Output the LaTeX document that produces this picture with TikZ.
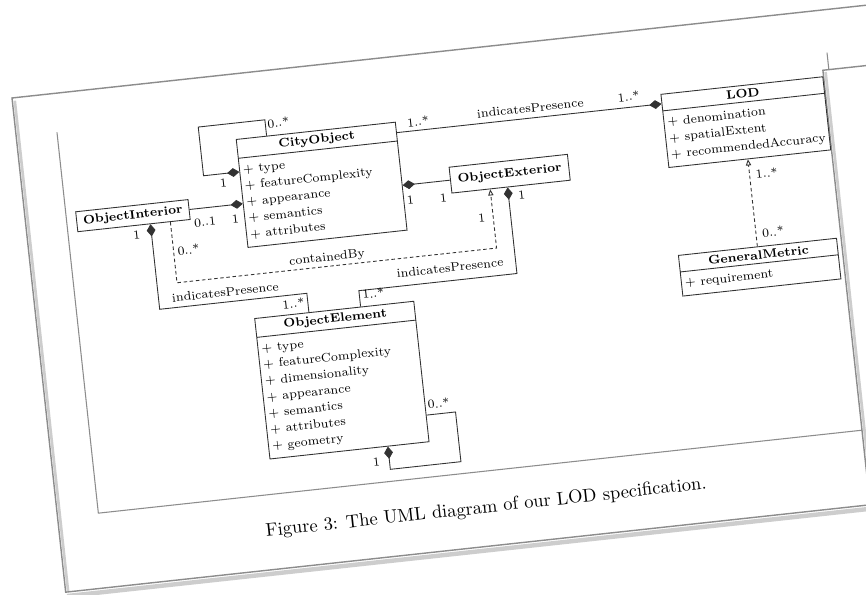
\documentclass[tikz,border=0pt]{standalone}
\usepackage{tikz}
\usetikzlibrary{shapes.multipart,arrows.meta,calc}
\definecolor{umlline}{RGB}{50,50,50}
\definecolor{pageedge}{RGB}{140,140,140}
\definecolor{pageshade}{RGB}{205,205,205}
\newcommand{\attrlist}[1]{\renewcommand{\arraystretch}{0.93}\begin{tabular}{@{}l@{}}#1\end{tabular}}

\begin{document}
\begin{tikzpicture}
    \tikzstyle{every node} = [transform shape]
    \tikzstyle{umlclass} = [draw=umlline, line width=0.5pt, fill=white, rectangle split, rectangle split parts=2,
        rectangle split part align={center,left}, inner xsep=2pt, inner ysep=2pt, anchor=north west,
        font=\fontsize{7}{10}\selectfont]
    \tikzstyle{umlbox} = [draw=umlline, line width=0.5pt, fill=white, inner sep=1pt, font=\fontsize{7}{9}\selectfont\bfseries]
    \tikzstyle{mult} = [inner sep=1pt, font=\fontsize{7}{8}\selectfont]
    \tikzstyle{compo} = [draw=umlline, line width=0.5pt, -{Diamond[length=7pt,width=5pt]}]
    \tikzstyle{depend} = [draw=umlline, line width=0.5pt, dash pattern=on 2pt off 1.5pt, -{Triangle[open,length=3.5pt,width=3pt]}]

    \useasboundingbox (0,0) rectangle (17.32,11.9);
    \clip (0,0) rectangle (17.32,11.9);
    \fill[white] (0,0) rectangle (17.32,11.9);

    \begin{scope}[shift={(0.24,9.94)}, rotate=6.2, x=0.02cm, y=-0.02cm]
        % the sheet
        \fill[white] (0,0) rectangle (1100,497);
        \draw[pageshade, line width=2.5pt] (1,501) -- (1100,501);
        \draw[pageshade, line width=1.5pt] (2.5,3) -- (2.5,496);
        \draw[pageedge, line width=0.8pt] (1100,0) -- (0,0) -- (0,497) -- (1100,497);
        % figure frame
        \draw[pageedge, line width=0.6pt] (41,39) -- (41,422) -- (815,422) -- (815,43);
        \node[font=\fontsize{10.5}{12}\selectfont] (caption) at (427,459) {Figure 3: The UML diagram of our LOD specification.};
        % next sheet
        \fill[white] (809,60) rectangle (1100,700);
        \draw[pageshade, line width=1.5pt] (811.5,62) -- (811.5,700);
        \draw[pageedge, line width=0.8pt] (1100,60) -- (809,60) -- (809,700);

        % classes
        \node[umlclass, minimum width=3.2cm] (city) at (218,65) {\textbf{CityObject}\nodepart{second}\attrlist{+ type\\+ featureComplexity\\+ appearance\\+ semantics\\+ attributes}};
        \node[umlclass, minimum width=3.16cm] (lod) at (645,66) {\textbf{LOD}\nodepart{second}\attrlist{+ denomination\\+ spatialExtent\\+ recommendedAccuracy}};
        \node[umlclass, minimum width=3.18cm] (metric) at (645,228) {\textbf{GeneralMetric}\nodepart{second}\attrlist{+ requirement}};
        \node[umlclass, minimum width=3.2cm] (element) at (217,245) {\textbf{ObjectElement}\nodepart{second}\attrlist{+ type\\+ featureComplexity\\+ dimensionality\\+ appearance\\+ semantics\\+ attributes\\+ geometry}};
        \node[umlbox, minimum width=2.26cm, minimum height=0.4cm] (interior) at (107.5,130) {ObjectInterior};
        \node[umlbox, minimum width=2.38cm, minimum height=0.52cm] (exterior) at (486.5,129) {ObjectExterior};

        % corners of the bent connectors
        \coordinate (cityloop) at (182,49);
        \coordinate (ipcorner) at (124,226);
        \coordinate (epcorner) at (483,229);
        \coordinate (cbcorner) at (465.5,201.5);
        \coordinate (elloop) at (407,410);

        % CityObject
        \draw[compo] ($(city.north west)+(31,0)$) |- (cityloop) |- ($(city.north west)+(0,33)$);
        \node[mult] (m1) at (262,53) {0..*};
        \node[mult] (m2) at (201,107) {1};
        \draw[compo] ($(city.north east)+(0,11)$) coordinate (citylod) -- (citylod -| lod.west);
        \node[mult] (m3) at (401,67) {1..*};
        \node[mult] (n1) at (514,66) {indicatesPresence};
        \node[mult] (m4) at (613,65) {1..*};
        \draw[compo] (exterior.west) -- (exterior.west -| city.east);
        \node[mult] (m5) at (385,144) {1};
        \node[mult] (m6) at (418,146) {1};
        \draw[compo] (interior.east) -- (interior.east -| city.west);
        \node[mult] (m7) at (178.5,144) {0..1};
        \node[mult] (m8) at (209,144) {1};

        % LOD and GeneralMetric
        \draw[depend] (metric.north) -- (metric.north |- lod.south);
        \node[mult] (m9) at (742,156) {1..*};
        \node[mult] (m10) at (742,215) {0..*};

        % ObjectInterior
        \draw[compo] ($(element.north west)+(55,0)$) |- (ipcorner) -- (ipcorner |- interior.south);
        \node[mult] (m11) at (109,150) {1};
        \node[mult] (n2) at (191,216) {indicatesPresence};
        \node[mult] (m12) at (257.5,234.5) {1..*};
        \draw[depend] ($(interior.south west)+(93.5,0)$) |- (cbcorner) -- (cbcorner |- exterior.south);
        \node[mult] (m13) at (159,170) {0..*};
        \node[mult] (n3) at (296,193) {containedBy};
        \node[mult] (m14) at (454,170) {1};

        % ObjectExterior
        \draw[compo] ($(element.north west)+(107,0)$) |- (epcorner) -- (epcorner |- exterior.south);
        \node[mult] (m15) at (496,151.5) {1};
        \node[mult] (n4) at (417,216) {indicatesPresence};
        \node[mult] (m16) at (338,233) {1..*};

        % ObjectElement
        \draw[compo] ($(element.north east)+(0,115)$) -| (elloop) -| ($(element.south west)+(119,0)$);
        \node[mult] (m17) at (391,349.5) {0..*};
        \node[mult] (m18) at (323,401) {1};
    \end{scope}
\end{tikzpicture}
\end{document}
